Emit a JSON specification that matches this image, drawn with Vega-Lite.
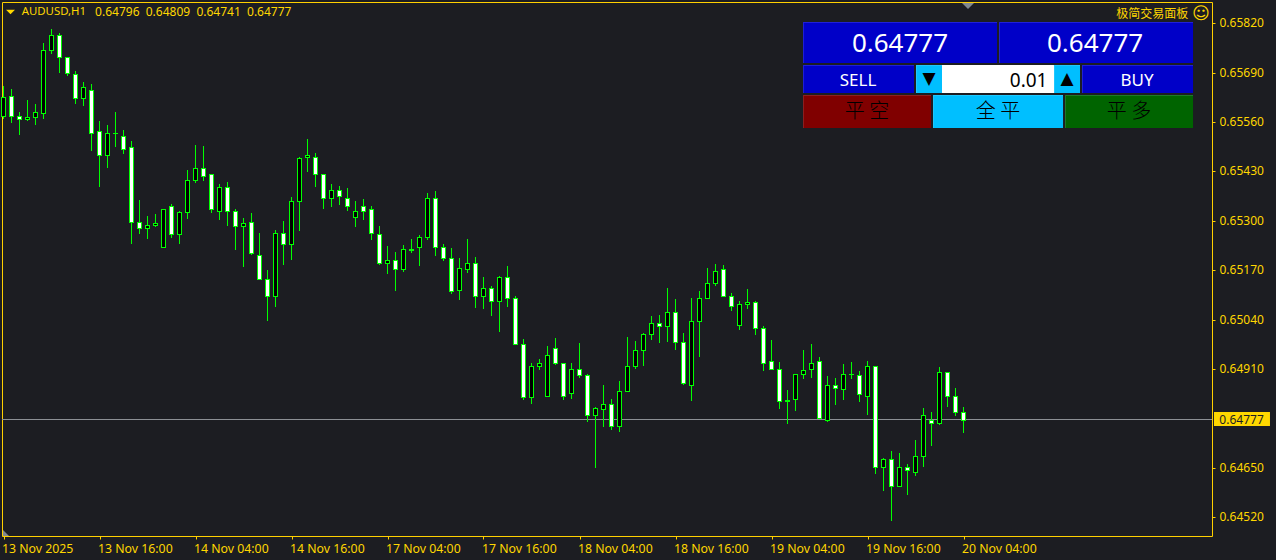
{"$schema":"https://vega.github.io/schema/vega-lite/v6.json","width":1210,"height":534,"padding":{"left":2,"top":2,"right":64,"bottom":24},"autosize":{"type":"none"},"background":"#1C1D22","config":{"view":{"stroke":"#FFD000","strokeWidth":1,"fill":"#1C1D22"},"axis":{"domain":false,"grid":false,"title":null,"labelFont":"Noto Sans","labelFontSize":12,"labelColor":"#FFD700","tickColor":"#FFD000","tickSize":3,"labelOverlap":false,"labelBound":false,"labelFlush":false}},
"datasets":{"candles":[
{"bar":0,"open":0.65577,"high":0.65654,"low":0.65568,"close":0.65626},{"bar":1,"open":0.65629,"high":0.65646,"low":0.65558,"close":0.65577},{"bar":2,"open":0.65577,"high":0.65585,"low":0.65526,"close":0.65567},{"bar":3,"open":0.65567,"high":0.65617,"low":0.65563,"close":0.65574},{"bar":4,"open":0.65572,"high":0.65607,"low":0.65552,"close":0.65585},{"bar":5,"open":0.65584,"high":0.65767,"low":0.65568,"close":0.6575},{"bar":6,"open":0.6575,"high":0.65804,"low":0.65739,"close":0.6579},{"bar":7,"open":0.6579,"high":0.65794,"low":0.65689,"close":0.65732},{"bar":8,"open":0.65732,"high":0.65732,"low":0.65681,"close":0.65688},{"bar":9,"open":0.65685,"high":0.65694,"low":0.65608,"close":0.65624},
{"bar":10,"open":0.65624,"high":0.65665,"low":0.65602,"close":0.65651},{"bar":11,"open":0.65645,"high":0.65659,"low":0.65484,"close":0.65532},{"bar":12,"open":0.65535,"high":0.65562,"low":0.65389,"close":0.65474},{"bar":13,"open":0.65474,"high":0.65552,"low":0.65439,"close":0.6553},{"bar":14,"open":0.6553,"high":0.65586,"low":0.65494,"close":0.6553},{"bar":15,"open":0.65524,"high":0.6554,"low":0.65476,"close":0.6549},{"bar":16,"open":0.65493,"high":0.65509,"low":0.65239,"close":0.65298},{"bar":17,"open":0.65298,"high":0.65354,"low":0.65266,"close":0.65282},{"bar":18,"open":0.6528,"high":0.65312,"low":0.65252,"close":0.6529},{"bar":19,"open":0.65289,"high":0.65317,"low":0.65284,"close":0.65295},
{"bar":20,"open":0.6523,"high":0.65332,"low":0.6523,"close":0.65332},{"bar":21,"open":0.65338,"high":0.65344,"low":0.65255,"close":0.65266},{"bar":22,"open":0.65266,"high":0.65325,"low":0.65239,"close":0.65322},{"bar":23,"open":0.65322,"high":0.65433,"low":0.65305,"close":0.65406},{"bar":24,"open":0.65408,"high":0.65499,"low":0.654,"close":0.6544},{"bar":25,"open":0.65438,"high":0.65496,"low":0.65405,"close":0.65418},{"bar":26,"open":0.65422,"high":0.65422,"low":0.65321,"close":0.6533},{"bar":27,"open":0.65327,"high":0.65396,"low":0.65302,"close":0.65388},{"bar":28,"open":0.65388,"high":0.65402,"low":0.65287,"close":0.65327},{"bar":29,"open":0.65327,"high":0.65331,"low":0.65223,"close":0.65285},
{"bar":30,"open":0.65285,"high":0.65307,"low":0.65179,"close":0.65295},{"bar":31,"open":0.65298,"high":0.6532,"low":0.6521,"close":0.65214},{"bar":32,"open":0.65211,"high":0.65267,"low":0.65144,"close":0.65148},{"bar":33,"open":0.65148,"high":0.6517,"low":0.65037,"close":0.65101},{"bar":34,"open":0.65101,"high":0.65275,"low":0.65073,"close":0.65267},{"bar":35,"open":0.65267,"high":0.65299,"low":0.65184,"close":0.65238},{"bar":36,"open":0.6524,"high":0.65362,"low":0.65197,"close":0.65351},{"bar":37,"open":0.65351,"high":0.65467,"low":0.65273,"close":0.65464},{"bar":38,"open":0.65467,"high":0.65514,"low":0.65429,"close":0.65472},{"bar":39,"open":0.65469,"high":0.65478,"low":0.65389,"close":0.65422},
{"bar":40,"open":0.65422,"high":0.65424,"low":0.65331,"close":0.65361},{"bar":41,"open":0.65361,"high":0.65396,"low":0.65337,"close":0.6538},{"bar":42,"open":0.6538,"high":0.65391,"low":0.65342,"close":0.65364},{"bar":43,"open":0.65361,"high":0.65386,"low":0.65326,"close":0.6534},{"bar":44,"open":0.6531,"high":0.65351,"low":0.65284,"close":0.65327},{"bar":45,"open":0.65338,"high":0.65357,"low":0.65302,"close":0.65327},{"bar":46,"open":0.6533,"high":0.65338,"low":0.6525,"close":0.65267},{"bar":47,"open":0.65264,"high":0.65286,"low":0.65184,"close":0.6519},{"bar":48,"open":0.6519,"high":0.65233,"low":0.6516,"close":0.65198},{"bar":49,"open":0.65198,"high":0.65217,"low":0.65116,"close":0.65172},
{"bar":50,"open":0.65172,"high":0.65236,"low":0.65166,"close":0.65225},{"bar":51,"open":0.65226,"high":0.65252,"low":0.65216,"close":0.65224},{"bar":52,"open":0.6523,"high":0.65262,"low":0.65181,"close":0.65256},{"bar":53,"open":0.65258,"high":0.65373,"low":0.6525,"close":0.65361},{"bar":54,"open":0.65361,"high":0.65378,"low":0.65208,"close":0.65232},{"bar":55,"open":0.65232,"high":0.6524,"low":0.65194,"close":0.65201},{"bar":56,"open":0.65201,"high":0.65228,"low":0.65108,"close":0.65114},{"bar":57,"open":0.65117,"high":0.65202,"low":0.65092,"close":0.65177},{"bar":58,"open":0.65174,"high":0.65252,"low":0.65163,"close":0.6519},{"bar":59,"open":0.65188,"high":0.65204,"low":0.65071,"close":0.65103},
{"bar":60,"open":0.65101,"high":0.65152,"low":0.65068,"close":0.65122},{"bar":61,"open":0.65122,"high":0.65128,"low":0.6505,"close":0.65088},{"bar":62,"open":0.6509,"high":0.65154,"low":0.65008,"close":0.65151},{"bar":63,"open":0.65153,"high":0.65181,"low":0.65073,"close":0.65096},{"bar":64,"open":0.65098,"high":0.65102,"low":0.64977,"close":0.64977},{"bar":65,"open":0.64977,"high":0.64988,"low":0.64828,"close":0.64835},{"bar":66,"open":0.64835,"high":0.64925,"low":0.64818,"close":0.64919},{"bar":67,"open":0.64919,"high":0.64935,"low":0.64908,"close":0.64927},{"bar":68,"open":0.6484,"high":0.6497,"low":0.6484,"close":0.64948},{"bar":69,"open":0.64964,"high":0.64991,"low":0.6492,"close":0.64925},
{"bar":70,"open":0.64925,"high":0.64927,"low":0.64829,"close":0.6484},{"bar":71,"open":0.64846,"high":0.64925,"low":0.64831,"close":0.64909},{"bar":72,"open":0.64909,"high":0.64978,"low":0.64887,"close":0.64893},{"bar":73,"open":0.64893,"high":0.64896,"low":0.64771,"close":0.6479},{"bar":74,"open":0.64788,"high":0.64809,"low":0.6465,"close":0.64806},{"bar":75,"open":0.64804,"high":0.64867,"low":0.64758,"close":0.64817},{"bar":76,"open":0.64817,"high":0.64831,"low":0.6475,"close":0.64761},{"bar":77,"open":0.64759,"high":0.64878,"low":0.64744,"close":0.64853},{"bar":78,"open":0.64853,"high":0.64994,"low":0.64853,"close":0.64919},{"bar":79,"open":0.64917,"high":0.64983,"low":0.64911,"close":0.64959},
{"bar":80,"open":0.64959,"high":0.65004,"low":0.64918,"close":0.65001},{"bar":81,"open":0.65001,"high":0.65049,"low":0.64986,"close":0.6503},{"bar":82,"open":0.6503,"high":0.65052,"low":0.64979,"close":0.65022},{"bar":83,"open":0.65022,"high":0.65123,"low":0.64981,"close":0.65061},{"bar":84,"open":0.65059,"high":0.65093,"low":0.6496,"close":0.6498},{"bar":85,"open":0.6498,"high":0.65004,"low":0.64867,"close":0.64872},{"bar":86,"open":0.64869,"high":0.65096,"low":0.64825,"close":0.65035},{"bar":87,"open":0.65035,"high":0.65115,"low":0.64942,"close":0.65096},{"bar":88,"open":0.65096,"high":0.65175,"low":0.65096,"close":0.65135},{"bar":89,"open":0.65135,"high":0.65186,"low":0.65129,"close":0.65169},
{"bar":90,"open":0.65172,"high":0.65183,"low":0.651,"close":0.65103},{"bar":91,"open":0.65103,"high":0.65109,"low":0.65063,"close":0.65077},{"bar":92,"open":0.65027,"high":0.65088,"low":0.65013,"close":0.6508},{"bar":93,"open":0.6508,"high":0.6512,"low":0.65068,"close":0.65085},{"bar":94,"open":0.65085,"high":0.6509,"low":0.65,"close":0.65017},{"bar":95,"open":0.65017,"high":0.65024,"low":0.64905,"close":0.64925},{"bar":96,"open":0.6493,"high":0.64986,"low":0.64909,"close":0.64909},{"bar":97,"open":0.64909,"high":0.64928,"low":0.64805,"close":0.64827},{"bar":98,"open":0.64829,"high":0.64854,"low":0.64766,"close":0.64827},{"bar":99,"open":0.6483,"high":0.64898,"low":0.648,"close":0.64896},
{"bar":100,"open":0.64898,"high":0.64959,"low":0.64884,"close":0.64906},{"bar":101,"open":0.64909,"high":0.64975,"low":0.64887,"close":0.64927},{"bar":102,"open":0.6493,"high":0.64941,"low":0.64782,"close":0.64782},{"bar":103,"open":0.64777,"high":0.64891,"low":0.64771,"close":0.64869},{"bar":104,"open":0.64869,"high":0.64886,"low":0.64816,"close":0.64859},{"bar":105,"open":0.64856,"high":0.64923,"low":0.64828,"close":0.64896},{"bar":106,"open":0.64896,"high":0.64928,"low":0.64884,"close":0.64896},{"bar":107,"open":0.64893,"high":0.64904,"low":0.64823,"close":0.64843},{"bar":108,"open":0.6484,"high":0.64931,"low":0.64789,"close":0.64917},{"bar":109,"open":0.64919,"high":0.64919,"low":0.64633,"close":0.64653},
{"bar":110,"open":0.64651,"high":0.64677,"low":0.64589,"close":0.64674},{"bar":111,"open":0.64674,"high":0.64693,"low":0.6451,"close":0.64603},{"bar":112,"open":0.64603,"high":0.64688,"low":0.646,"close":0.64653},{"bar":113,"open":0.64653,"high":0.64659,"low":0.64579,"close":0.64643},{"bar":114,"open":0.64638,"high":0.64723,"low":0.64629,"close":0.6468},{"bar":115,"open":0.6468,"high":0.64806,"low":0.64652,"close":0.64788},{"bar":116,"open":0.64775,"high":0.64796,"low":0.64707,"close":0.64769},{"bar":117,"open":0.64767,"high":0.64915,"low":0.64763,"close":0.64903},{"bar":118,"open":0.64901,"high":0.64903,"low":0.6481,"close":0.64838},{"bar":119,"open":0.64838,"high":0.64859,"low":0.64786,"close":0.64798},
{"bar":120,"open":0.64796,"high":0.64809,"low":0.64741,"close":0.64777}],
"buttons":[
{"name":"bid","kind":"blue","from":99.94,"to":124.19,"top":0.658231,"bottom":0.657152},{"name":"ask","kind":"blue","from":124.44,"to":148.69,"top":0.658231,"bottom":0.657152},
{"name":"sell","kind":"blue","from":99.94,"to":113.81,"top":0.657099,"bottom":0.656362},{"name":"down","kind":"cyan","from":114.06,"to":117.31,"top":0.657099,"bottom":0.656362},{"name":"lot","kind":"white","from":117.31,"to":131.31,"top":0.657099,"bottom":0.656362},{"name":"up","kind":"cyan","from":131.31,"to":134.56,"top":0.657099,"bottom":0.656362},{"name":"buy","kind":"blue","from":134.81,"to":148.69,"top":0.657099,"bottom":0.656362},
{"name":"closeShort","kind":"red","from":99.94,"to":115.94,"top":0.65631,"bottom":0.655441},{"name":"closeAll","kind":"cyan","from":116.19,"to":132.44,"top":0.65631,"bottom":0.655441},{"name":"closeLong","kind":"green","from":132.69,"to":148.69,"top":0.65631,"bottom":0.655441}]},
"layer":[
{"data":{"values":[{"price":0.64777}]},"mark":{"type":"rule","color":"#8C9095","strokeWidth":1,"yOffset":-0.5},"encoding":{"y":{"field":"price","type":"quantitative","scale":{"domain":[0.6447044,0.658757],"nice":false,"zero":false,"round":true},"axis":{"orient":"right","values":[0.6582,0.6569,0.6556,0.6543,0.653,0.6517,0.6504,0.6491,0.6465,0.6452],"format":".5f","labelPadding":4,"labelOffset":-0.6}}}},
{"data":{"name":"candles"},"mark":{"type":"rule","color":"#00FF00","strokeWidth":1},"encoding":{"x":{"field":"bar","type":"quantitative","scale":{"domain":[-0.1875,151.0625],"nice":false,"zero":false,"padding":0},"axis":{"orient":"bottom","values":[0,12,24,36,48,60,72,84,96,108,120],"labelExpr":"['13 Nov 2025','13 Nov 16:00','14 Nov 04:00','14 Nov 16:00','17 Nov 04:00','17 Nov 16:00','18 Nov 04:00','18 Nov 16:00','19 Nov 04:00','19 Nov 16:00','20 Nov 04:00'][datum.value/12]","labelAlign":"left","labelBaseline":"top","labelPadding":3.5,"labelOffset":-2,"labelFontSize":12.3}},"y":{"field":"high","type":"quantitative"},"y2":{"field":"low"}}},
{"data":{"name":"candles"},"transform":[{"filter":"datum.close>=datum.open"}],"mark":{"type":"rule","strokeWidth":5,"color":"#00FF00","y2Offset":1},"encoding":{"x":{"field":"bar","type":"quantitative"},"y":{"field":"close","type":"quantitative"},"y2":{"field":"open"}}},
{"data":{"name":"candles"},"transform":[{"filter":"datum.close<datum.open"}],"mark":{"type":"rule","strokeWidth":5,"color":"#00FF00","y2Offset":1},"encoding":{"x":{"field":"bar","type":"quantitative"},"y":{"field":"open","type":"quantitative"},"y2":{"field":"close"}}},
{"data":{"name":"candles"},"transform":[{"filter":"datum.close-datum.open>0.00004"}],"mark":{"type":"rule","strokeWidth":3,"color":"#000000","yOffset":1},"encoding":{"x":{"field":"bar","type":"quantitative"},"y":{"field":"close","type":"quantitative"},"y2":{"field":"open"}}},
{"data":{"name":"candles"},"transform":[{"filter":"datum.open-datum.close>0.00004"}],"mark":{"type":"rule","strokeWidth":3,"color":"#FFFFFF","yOffset":1},"encoding":{"x":{"field":"bar","type":"quantitative"},"y":{"field":"open","type":"quantitative"},"y2":{"field":"close"}}},
{"data":{"name":"buttons"},"mark":{"type":"rect"},"encoding":{"x":{"field":"from","type":"quantitative"},"x2":{"field":"to"},"y":{"field":"top","type":"quantitative"},"y2":{"field":"bottom"},"fill":{"field":"kind","type":"nominal","legend":null,"scale":{"domain":["blue","cyan","white","red","green"],"range":["#2020D8","#20C8FF","#FFFFFF","#8E2020","#1E7A2A"]}}}},
{"data":{"name":"buttons"},"mark":{"type":"rect","xOffset":1,"yOffset":1},"encoding":{"x":{"field":"from","type":"quantitative"},"x2":{"field":"to"},"y":{"field":"top","type":"quantitative"},"y2":{"field":"bottom"},"fill":{"field":"kind","type":"nominal","legend":null,"scale":{"domain":["blue","cyan","white","red","green"],"range":["#0000C8","#00BFFF","#FFFFFF","#800000","#006400"]}}}},
{"data":{"values":[{"text":"0.64777","bar":112.06,"price":0.65764},{"text":"0.64777","bar":136.44,"price":0.65764}]},"mark":{"type":"text","font":"Noto Sans","fontSize":26,"color":"#FFFFFF","align":"center","baseline":"middle"},"encoding":{"x":{"field":"bar","type":"quantitative"},"y":{"field":"price","type":"quantitative"},"text":{"field":"text"}}},
{"data":{"values":[{"text":"SELL","bar":106.81,"price":0.65669},{"text":"BUY","bar":141.69,"price":0.65669}]},"mark":{"type":"text","font":"Noto Sans","fontSize":17,"color":"#FFFFFF","align":"center","baseline":"middle"},"encoding":{"x":{"field":"bar","type":"quantitative"},"y":{"field":"price","type":"quantitative"},"text":{"field":"text"}}},
{"data":{"values":[{"text":"▼","bar":115.69,"price":0.656731},{"text":"▲","bar":132.94,"price":0.656731}]},"mark":{"type":"text","font":"DejaVu Sans","fontSize":17,"color":"#000000","align":"center","baseline":"middle"},"encoding":{"x":{"field":"bar","type":"quantitative"},"y":{"field":"price","type":"quantitative"},"text":{"field":"text"}}},
{"data":{"values":[{"text":"0.01","bar":130.5,"price":0.65669}]},"mark":{"type":"text","font":"Noto Sans","fontSize":19,"color":"#000000","align":"right","baseline":"middle"},"encoding":{"x":{"field":"bar","type":"quantitative"},"y":{"field":"price","type":"quantitative"},"text":{"field":"text"}}},
{"data":{"values":[{"text":"平 空","bar":107.94,"price":0.655865},{"text":"全 平","bar":124.31,"price":0.655865},{"text":"平 多","bar":140.69,"price":0.655865}]},"mark":{"type":"text","font":"Noto Sans CJK SC","fontSize":20,"fontWeight":300,"color":"#000000","align":"center","baseline":"middle"},"encoding":{"x":{"field":"bar","type":"quantitative"},"y":{"field":"price","type":"quantitative"},"text":{"field":"text"}}},
{"data":{"values":[{"text":"极简交易面板","bar":139.1,"price":0.658441}]},"mark":{"type":"text","font":"Noto Sans CJK SC","fontSize":12,"color":"#FFD700","align":"left","baseline":"middle"},"encoding":{"x":{"field":"bar","type":"quantitative"},"y":{"field":"price","type":"quantitative"},"text":{"field":"text"}}},
{"data":{"values":[{"text":"☺","bar":149.71,"price":0.658441}]},"mark":{"type":"text","font":"DejaVu Sans","fontSize":17,"color":"#FFD700","align":"center","baseline":"middle"},"encoding":{"x":{"field":"bar","type":"quantitative"},"y":{"field":"price","type":"quantitative"},"text":{"field":"text"}}},
{"data":{"values":[{"text":"AUDUSD,H1","bar":2.275,"price":0.658494}]},"mark":{"type":"text","font":"Noto Sans","fontSize":11.4,"color":"#FFD700","align":"left","baseline":"middle"},"encoding":{"x":{"field":"bar","type":"quantitative"},"y":{"field":"price","type":"quantitative"},"text":{"field":"text"}}},
{"data":{"values":[{"text":"0.64796\u00a0\u00a00.64809\u00a0\u00a00.64741\u00a0\u00a00.64777","bar":11.45,"price":0.658494}]},"mark":{"type":"text","font":"Noto Sans","fontSize":12,"color":"#FFD700","align":"left","baseline":"middle"},"encoding":{"x":{"field":"bar","type":"quantitative"},"y":{"field":"price","type":"quantitative"},"text":{"field":"text"}}},
{"data":{"values":[{"bar":0.875,"price":0.658481}]},"mark":{"type":"point","shape":"M-1,-0.5L1,-0.5L0,0.5Z","size":81,"filled":true,"color":"#FFD700","opacity":1},"encoding":{"x":{"field":"bar","type":"quantitative"},"y":{"field":"price","type":"quantitative"}}},
{"data":{"values":[{"bar":120.56,"price":0.658647}]},"mark":{"type":"point","shape":"M-1,-0.5L1,-0.5L0,0.5Z","size":144,"filled":true,"color":"#808890","opacity":1},"encoding":{"x":{"field":"bar","type":"quantitative"},"y":{"field":"price","type":"quantitative"}}},
{"data":{"values":[{"bar":0.3125,"price":0.644779}]},"mark":{"type":"point","shape":"M-1,-1L-1,1L1,1Z","size":36,"filled":true,"color":"#808890","opacity":1},"encoding":{"x":{"field":"bar","type":"quantitative"},"y":{"field":"price","type":"quantitative"}}},
{"data":{"values":[{"from":151.31,"to":158.31,"top":0.647968,"bottom":0.647599}]},"mark":{"type":"rect","color":"#FFD700"},"encoding":{"x":{"field":"from","type":"quantitative"},"x2":{"field":"to"},"y":{"field":"top","type":"quantitative"},"y2":{"field":"bottom"}}},
{"data":{"values":[{"text":"0.64777","bar":151.98,"price":0.64777}]},"mark":{"type":"text","font":"Noto Sans","fontSize":12,"color":"#1C1D22","align":"left","baseline":"middle"},"encoding":{"x":{"field":"bar","type":"quantitative"},"y":{"field":"price","type":"quantitative"},"text":{"field":"text"}}}
],"resolve":{"scale":{"fill":"independent"}}}
